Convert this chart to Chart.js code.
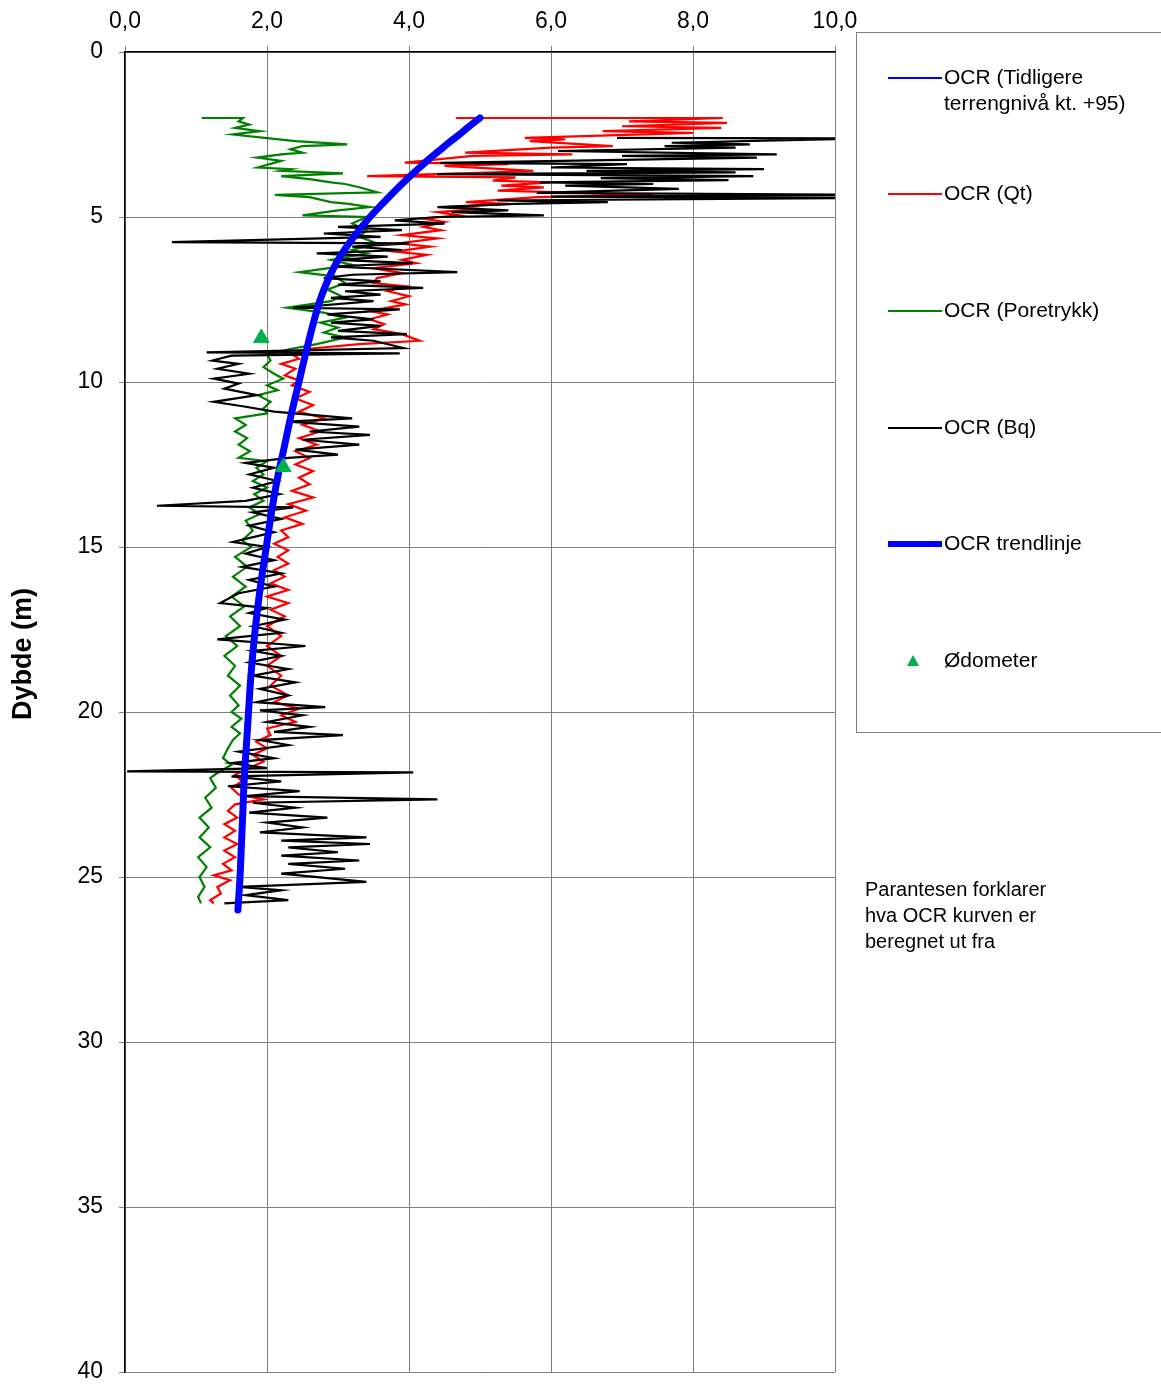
<!DOCTYPE html>
<html>
<head>
<meta charset="utf-8">
<script src="https://cdn.jsdelivr.net/npm/chart.js@4.4.1/dist/chart.umd.min.js"></script>
<style>
  body { margin: 0; background: #fff; }
  canvas { display: block; }
</style>
</head>
<body>
<canvas id="ocrChart" width="1161" height="1385"></canvas>
<script>
// [OCR, dybde (m)]
const ocrQt = [
    [4.66, 2.0], [8.42, 2.0], [7.1, 2.1], [8.48, 2.15], [7.0, 2.25], [8.4, 2.3], [6.73, 2.4], [8.0, 2.45],
    [5.63, 2.6], [6.2, 2.65], [5.7, 2.7], [6.87, 2.85], [6.0, 2.9], [4.79, 3.05], [6.3, 3.1], [4.9, 3.15],
    [3.94, 3.35], [5.4, 3.4], [4.5, 3.45], [5.75, 3.6], [5.2, 3.65], [3.41, 3.76], [5.5, 3.8], [5.18, 3.9],
    [5.99, 3.95], [5.3, 4.05], [5.9, 4.1], [5.25, 4.2], [7.44, 4.33], [5.8, 4.4], [4.8, 4.55], [5.4, 4.6],
    [4.5, 4.7], [5.0, 4.75], [4.4, 4.85], [4.7, 4.95], [4.2, 5.05], [4.5, 5.15], [4.2, 5.3], [4.45, 5.4],
    [3.9, 5.55], [4.4, 5.65], [3.85, 5.8], [4.3, 5.9], [3.8, 6.05], [4.25, 6.15], [3.9, 6.3], [4.1, 6.4],
    [3.5, 6.55], [3.9, 6.7], [3.55, 6.85], [3.5, 7.0], [3.95, 7.1], [3.7, 7.25], [4.0, 7.4], [3.75, 7.55],
    [3.95, 7.65], [3.45, 7.85], [3.7, 7.95], [3.45, 8.1], [3.65, 8.25], [3.5, 8.4], [3.9, 8.55], [4.15, 8.75],
    [3.3, 8.85], [2.55, 9.0], [2.35, 9.15], [2.45, 9.3], [2.2, 9.45], [2.4, 9.6], [2.25, 9.8], [2.45, 9.95],
    [2.35, 10.1], [2.6, 10.3], [2.4, 10.5], [2.65, 10.7], [2.45, 10.9], [2.8, 11.1], [2.5, 11.3], [2.75, 11.5],
    [2.45, 11.7], [2.7, 11.9], [2.4, 12.1], [2.6, 12.3], [2.4, 12.5], [2.65, 12.7], [2.45, 12.9], [2.6, 13.1],
    [2.35, 13.3], [2.65, 13.5], [2.3, 13.7], [2.55, 13.9], [2.25, 14.1], [2.5, 14.3], [2.2, 14.5], [2.3, 14.7],
    [2.1, 14.9], [2.3, 15.1], [2.15, 15.3], [2.3, 15.5], [2.1, 15.7], [2.25, 15.9], [2.05, 16.1], [2.3, 16.3],
    [2.0, 16.5], [2.3, 16.7], [2.05, 16.9], [2.25, 17.1], [2.0, 17.4], [2.2, 17.7], [2.0, 18.0], [2.2, 18.3],
    [2.0, 18.6], [2.2, 18.9], [2.05, 19.2], [2.3, 19.5], [2.1, 19.7], [2.45, 19.9], [2.2, 20.1], [2.4, 20.3],
    [2.0, 20.5], [2.05, 20.7], [1.85, 20.9], [2.0, 21.1], [1.8, 21.3], [1.95, 21.5], [1.75, 21.7], [1.55, 21.9],
    [1.65, 22.1], [1.5, 22.3], [1.6, 22.5], [1.95, 22.65], [1.55, 22.8], [1.45, 23.0], [1.58, 23.2], [1.4, 23.4],
    [1.55, 23.6], [1.4, 23.8], [1.58, 24.0], [1.4, 24.2], [1.55, 24.4], [1.38, 24.6], [1.5, 24.8], [1.25, 24.95],
    [1.48, 25.1], [1.3, 25.3], [1.35, 25.5], [1.2, 25.7], [1.25, 25.8]
];

const ocrPoretrykk = [
    [1.08, 2.0], [1.66, 2.0], [1.6, 2.1], [1.75, 2.2], [1.55, 2.3], [1.9, 2.4], [1.52, 2.5], [1.97, 2.6],
    [2.4, 2.7], [3.13, 2.8], [2.5, 2.85], [2.33, 2.95], [2.5, 3.05], [2.2, 3.1], [1.86, 3.2], [2.2, 3.3],
    [1.87, 3.5], [2.33, 3.55], [2.2, 3.6], [3.07, 3.68], [2.2, 3.76], [2.6, 3.85], [2.9, 3.95], [3.1, 4.0],
    [3.3, 4.1], [3.55, 4.25], [2.11, 4.33], [2.6, 4.4], [2.9, 4.55], [3.15, 4.6], [3.45, 4.7], [3.0, 4.8],
    [2.5, 4.95], [3.4, 5.0], [3.2, 5.2], [3.4, 5.4], [3.3, 5.6], [3.55, 5.8], [3.2, 6.0], [3.4, 6.1],
    [2.9, 6.3], [3.2, 6.45], [2.46, 6.67], [2.95, 6.8], [3.1, 7.0], [2.85, 7.2], [3.05, 7.4], [2.9, 7.55],
    [2.28, 7.75], [2.8, 7.9], [3.1, 8.05], [2.75, 8.2], [3.0, 8.35], [2.8, 8.5], [3.1, 8.65], [2.7, 8.85],
    [2.33, 9.0], [2.0, 9.15], [2.05, 9.35], [1.95, 9.55], [2.1, 9.75], [2.23, 9.9], [2.0, 10.1], [2.15, 10.25],
    [1.87, 10.4], [2.05, 10.6], [1.95, 10.8], [2.0, 10.95], [1.55, 11.1], [1.7, 11.3], [1.55, 11.5], [1.72, 11.7],
    [1.6, 11.9], [1.76, 12.1], [1.6, 12.3], [2.0, 12.4], [1.85, 12.6], [1.95, 12.8], [1.8, 13.0], [2.0, 13.2],
    [1.82, 13.4], [1.95, 13.6], [1.75, 13.8], [1.9, 14.0], [1.7, 14.2], [1.8, 14.5], [1.65, 14.8], [1.78, 15.0],
    [1.55, 15.3], [1.72, 15.6], [1.52, 15.9], [1.7, 16.2], [1.5, 16.5], [1.68, 16.8], [1.48, 17.1], [1.62, 17.4],
    [1.42, 17.7], [1.58, 18.0], [1.4, 18.3], [1.55, 18.6], [1.45, 18.9], [1.62, 19.2], [1.48, 19.5], [1.6, 19.8],
    [1.5, 20.0], [1.64, 20.2], [1.5, 20.45], [1.62, 20.65], [1.52, 20.85], [1.45, 21.1], [1.38, 21.4], [1.5, 21.6],
    [1.3, 21.85], [1.2, 22.0], [1.28, 22.3], [1.13, 22.6], [1.22, 22.9], [1.05, 23.2], [1.18, 23.5], [1.05, 23.8],
    [1.2, 24.1], [1.03, 24.4], [1.15, 24.7], [1.05, 25.0], [1.12, 25.3], [1.03, 25.6], [1.07, 25.8]
];

const ocrBq = [
    [6.93, 2.6], [10.4, 2.62], [7.7, 2.75], [8.8, 2.8], [7.6, 2.85], [8.6, 2.9], [6.1, 3.0], [9.18, 3.1],
    [7.0, 3.15], [8.9, 3.2], [4.44, 3.36], [7.07, 3.4], [6.0, 3.5], [9.0, 3.55], [6.5, 3.6], [8.6, 3.65],
    [4.4, 3.7], [8.85, 3.76], [6.7, 3.82], [8.5, 3.88], [5.85, 3.95], [7.44, 4.0], [6.2, 4.05], [7.8, 4.15],
    [5.8, 4.27], [10.4, 4.33], [6.0, 4.38], [10.4, 4.42], [5.24, 4.5], [6.8, 4.55], [5.5, 4.6], [4.4, 4.7],
    [5.4, 4.8], [4.6, 4.85], [5.9, 4.95], [4.4, 5.0], [3.8, 5.1], [4.5, 5.2], [3.0, 5.3], [3.9, 5.4],
    [2.8, 5.5], [3.6, 5.6], [0.66, 5.76], [4.0, 5.8], [3.2, 5.9], [3.9, 6.0], [2.7, 6.1], [3.7, 6.2],
    [3.0, 6.3], [4.05, 6.4], [2.9, 6.5], [4.68, 6.67], [3.2, 6.75], [2.8, 6.85], [3.6, 6.95], [3.0, 7.05],
    [4.2, 7.15], [3.1, 7.25], [3.6, 7.35], [2.9, 7.45], [3.5, 7.55], [2.37, 7.75], [3.87, 7.8], [2.85, 7.95],
    [3.5, 8.1], [2.9, 8.2], [3.6, 8.3], [3.0, 8.45], [3.97, 8.55], [2.9, 8.65], [3.5, 8.75], [3.92, 8.97],
    [1.15, 9.1], [3.87, 9.13], [1.5, 9.2], [1.23, 9.35], [1.6, 9.45], [1.3, 9.6], [1.75, 9.75], [1.25, 9.9],
    [1.6, 10.05], [1.4, 10.2], [1.86, 10.4], [1.25, 10.6], [1.7, 10.75], [2.1, 10.9], [3.2, 11.1], [2.3, 11.2],
    [3.3, 11.35], [2.6, 11.5], [3.45, 11.6], [2.5, 11.75], [3.3, 11.9], [2.4, 12.05], [3.0, 12.2], [2.3, 12.3],
    [1.7, 12.45], [2.1, 12.6], [1.75, 12.8], [2.15, 13.0], [1.8, 13.2], [2.18, 13.4], [1.7, 13.6], [0.45, 13.75],
    [2.37, 13.8], [1.8, 13.95], [2.2, 14.15], [1.75, 14.35], [2.1, 14.55], [1.52, 14.85], [2.0, 15.0], [1.7, 15.2],
    [2.1, 15.4], [1.65, 15.6], [2.2, 15.8], [1.75, 16.0], [2.1, 16.2], [1.6, 16.4], [1.34, 16.7], [2.0, 16.85],
    [1.75, 17.0], [2.25, 17.2], [1.8, 17.4], [2.2, 17.6], [1.3, 17.8], [2.54, 18.0], [1.8, 18.15], [2.2, 18.3],
    [1.75, 18.5], [2.3, 18.7], [1.8, 18.9], [2.4, 19.1], [1.9, 19.3], [2.3, 19.5], [1.85, 19.7], [2.82, 19.85],
    [1.9, 19.95], [2.5, 20.1], [2.0, 20.3], [2.6, 20.45], [2.1, 20.6], [3.07, 20.7], [1.9, 20.85], [2.3, 21.0],
    [1.6, 21.2], [2.1, 21.4], [1.5, 21.55], [2.0, 21.7], [0.03, 21.8], [4.06, 21.83], [1.5, 21.95], [2.2, 22.1],
    [1.45, 22.25], [2.46, 22.4], [1.7, 22.55], [4.4, 22.65], [1.8, 22.75], [2.4, 22.9], [1.75, 23.05], [2.85, 23.2],
    [2.0, 23.35], [2.5, 23.5], [1.9, 23.65], [3.4, 23.8], [2.2, 23.9], [3.45, 24.0], [2.3, 24.1], [3.0, 24.25],
    [2.2, 24.35], [3.3, 24.5], [2.3, 24.6], [3.1, 24.75], [2.2, 24.9], [3.4, 25.15], [1.6, 25.3], [2.2, 25.4],
    [1.7, 25.55], [2.3, 25.7], [1.4, 25.8]
];

const trendDepth = [2, 2.25, 2.5, 2.75, 3, 3.25, 3.5, 4, 4.5, 5, 5.5, 6, 6.5, 7, 7.5, 8, 9, 10, 11, 12, 13, 14, 15, 16, 17, 18, 19, 20, 21, 22, 23, 24, 25, 26];
const trendOcr = [5.0, 4.85, 4.71, 4.56, 4.42, 4.28, 4.15, 3.9, 3.67, 3.45, 3.26, 3.09, 2.95, 2.84, 2.75, 2.68, 2.56, 2.45, 2.34, 2.24, 2.14, 2.06, 1.99, 1.92, 1.86, 1.81, 1.77, 1.74, 1.71, 1.68, 1.66, 1.64, 1.62, 1.59];

const odoDepth = [8.67, 12.58];
const odoOcr = [1.92, 2.23];

const xTicks = [0, 2, 4, 6, 8, 10];
const yTicks = [0, 5, 10, 15, 20, 25, 30, 35, 40];
const note = ['Parantesen forklarer', 'hva OCR kurven er', 'beregnet ut fra'];

const FONT = "'Liberation Sans', Arial, sans-serif";
Chart.defaults.font.family = FONT;
Chart.defaults.color = '#000';

function toPoints(pairs) {
    return pairs.map(p => ({ x: p[0], y: p[1] }));
}
const trendPoints = trendDepth.map((d, i) => ({ x: trendOcr[i], y: d }));
const odoPoints = odoDepth.map((d, i) => ({ x: odoOcr[i], y: d }));

// draws y-title, legend box and the note on the right
const sideDecor = {
    id: 'sideDecor',
    afterDraw(chart) {
        const ctx = chart.ctx;
        ctx.save();
        // y title
        ctx.translate(24, 654);
        ctx.rotate(-Math.PI / 2);
        ctx.font = 'bold 27px ' + FONT;
        ctx.fillStyle = '#000';
        ctx.textAlign = 'center';
        ctx.textBaseline = 'middle';
        ctx.fillText('Dybde (m)', 0, 0);
        ctx.restore();

        ctx.save();
        ctx.strokeStyle = '#808080';
        ctx.lineWidth = 1;
        ctx.strokeRect(856.5, 32.5, 320, 700);
        ctx.font = '21px ' + FONT;
        ctx.textBaseline = 'middle';
        ctx.textAlign = 'left';
        const rows = [78, 194, 311, 428, 544, 661];
        chart.data.datasets.forEach((ds, i) => {
            const y = rows[i];
            if (ds.showLine) {
                ctx.strokeStyle = ds.borderColor;
                ctx.lineWidth = ds.legendWidth;
                ctx.lineCap = 'butt';
                ctx.beginPath();
                ctx.moveTo(888, y);
                ctx.lineTo(942, y);
                ctx.stroke();
            } else {
                ctx.fillStyle = ds.backgroundColor;
                ctx.beginPath();
                ctx.moveTo(913, y - 6);
                ctx.lineTo(919, y + 5);
                ctx.lineTo(907, y + 5);
                ctx.closePath();
                ctx.fill();
            }
            ctx.fillStyle = '#000';
            const words = ds.label.split(' ');
            let line = '';
            let ly = y;
            words.forEach(w => {
                const test = line ? line + ' ' + w : w;
                if (ctx.measureText(test).width > 205 && line) {
                    ctx.fillText(line, 944, ly);
                    line = w;
                    ly += 26;
                } else {
                    line = test;
                }
            });
            ctx.fillText(line, 944, ly);
        });
        ctx.font = '20px ' + FONT;
        note.forEach((t, i) => ctx.fillText(t, 865, 890 + i * 26));
        ctx.restore();
    }
};

const ctx = document.getElementById('ocrChart');
new Chart(ctx, {
    type: 'scatter',
    data: {
        datasets: [
            {
                label: 'OCR (Tidligere terrengnivå kt. +95)',
                data: trendPoints,
                showLine: true,
                tension: 0.4,
                borderColor: '#0000ff',
                borderWidth: 2,
                legendWidth: 2,
                pointRadius: 0,
                order: 2
            },
            {
                label: 'OCR (Qt)',
                data: toPoints(ocrQt),
                showLine: true,
                borderColor: '#ff0000',
                borderWidth: 2.2,
                legendWidth: 2,
                pointRadius: 0,
                order: 5
            },
            {
                label: 'OCR (Poretrykk)',
                data: toPoints(ocrPoretrykk),
                showLine: true,
                borderColor: '#008000',
                borderWidth: 2.2,
                legendWidth: 2,
                pointRadius: 0,
                order: 4
            },
            {
                label: 'OCR (Bq)',
                data: toPoints(ocrBq),
                showLine: true,
                borderColor: '#000000',
                borderWidth: 2.2,
                legendWidth: 2,
                pointRadius: 0,
                order: 3
            },
            {
                label: 'OCR trendlinje',
                data: trendPoints,
                showLine: true,
                tension: 0.4,
                borderColor: '#0000ff',
                borderWidth: 7,
                legendWidth: 6,
                borderCapStyle: 'round',
                borderJoinStyle: 'round',
                pointRadius: 0,
                order: 1
            },
            {
                label: 'Ødometer',
                data: odoPoints,
                showLine: false,
                pointStyle: 'triangle',
                pointRadius: 9,
                backgroundColor: '#00b050',
                borderColor: '#00b050',
                borderWidth: 1,
                order: 0
            }
        ]
    },
    options: {
        responsive: false,
        animation: false,
        events: [],
        layout: { padding: { left: 0, top: 0, right: 326, bottom: 13 } },
        plugins: {
            legend: { display: false },
            tooltip: { enabled: false }
        },
        scales: {
            x: {
                type: 'linear',
                position: 'top',
                min: 0,
                max: 10,
                afterBuildTicks: s => { s.ticks = xTicks.map(v => ({ value: v })); },
                afterFit: s => { s.height = 52; s.paddingLeft = 0; s.paddingRight = 0; },
                ticks: {
                    font: { size: 23 },
                    color: '#000',
                    padding: 11,
                    maxRotation: 0,
                    callback: v => v.toFixed(1).replace('.', ',')
                },
                grid: { color: '#808080', lineWidth: 1, tickLength: 6 },
                border: { color: '#000', width: 1.5 }
            },
            y: {
                type: 'linear',
                reverse: true,
                min: 0,
                max: 40,
                afterBuildTicks: s => { s.ticks = yTicks.map(v => ({ value: v })); },
                afterFit: s => { s.width = 125; s.paddingTop = 0; s.paddingBottom = 0; },
                ticks: {
                    font: { size: 23 },
                    color: '#000',
                    padding: 16
                },
                grid: { color: '#808080', lineWidth: 1, tickLength: 6 },
                border: { color: '#000', width: 1.5 }
            }
        }
    },
    plugins: [sideDecor]
});
</script>
</body>
</html>
